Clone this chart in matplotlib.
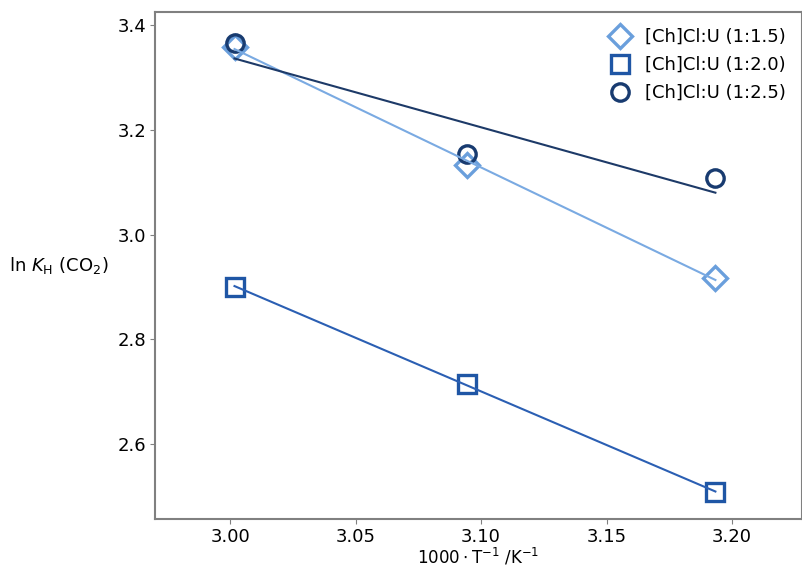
import numpy as np
import matplotlib.pyplot as plt

plt.rcParams['font.family'] = 'DejaVu Sans'

# 1000/T values (T = 333.15, 323.15, 313.15 K)
inv_T = [3.0017, 3.0945, 3.1934]

labels = ['[Ch]Cl:U (1:1.5)', '[Ch]Cl:U (1:2.0)', '[Ch]Cl:U (1:2.5)']
ln_kh_15 = [3.358, 3.133, 2.917]
ln_kh_20 = [2.900, 2.715, 2.508]
ln_kh_25 = [3.366, 3.154, 3.108]

marker_colors = ['#6a9fdc', '#1f56a5', '#183b70']
line_colors = ['#7aaae2', '#2b5fb3', '#1d3a68']
markers = ['D', 's', 'o']
msizes = [12.5, 12.5, 12.5]

fig = plt.figure(figsize=(8.03, 5.66), dpi=100)
ax = fig.add_axes([0.193, 0.083, 0.806, 0.896])

for ys, lab, mc, lc, m, ms in zip([ln_kh_15, ln_kh_20, ln_kh_25], labels,
                                  marker_colors, line_colors, markers, msizes):
    x = np.array(inv_T)
    y = np.array(ys)
    k, b = np.polyfit(x, y, 1)
    ax.plot(x, k * x + b, color=lc, lw=1.5, zorder=3)
    ax.plot(x, y, linestyle='none', marker=m, ms=ms,
            mfc='none', mec=mc, mew=2.4, label=lab, zorder=2)

ax.set_xlim(2.970, 3.228)
ax.set_ylim(2.457, 3.425)
ax.set_xticks([3.00, 3.05, 3.10, 3.15, 3.20])
ax.set_yticks([2.6, 2.8, 3.0, 3.2, 3.4])
ax.tick_params(labelsize=13, color='#808080', pad=3)
for s in ax.spines.values():
    s.set_color('#808080')
    s.set_linewidth(1.5)

ax.set_xlabel(r'$1000 \cdot \mathrm{T}^{-1}\ /\mathrm{K}^{-1}$', fontsize=12, labelpad=0)
ax.xaxis.set_label_coords(0.5, -0.054)
ax.set_ylabel(r'ln $K_\mathrm{H}$ (CO$_2$)', fontsize=13, rotation=0)
ax.yaxis.set_label_coords(-0.148, 0.48)

ax.legend(loc='upper right', frameon=False, fontsize=13, handletextpad=0.6,
          borderaxespad=0.5, labelspacing=0.55, handlelength=1.6)

fig.savefig('out.png', dpi=100)
